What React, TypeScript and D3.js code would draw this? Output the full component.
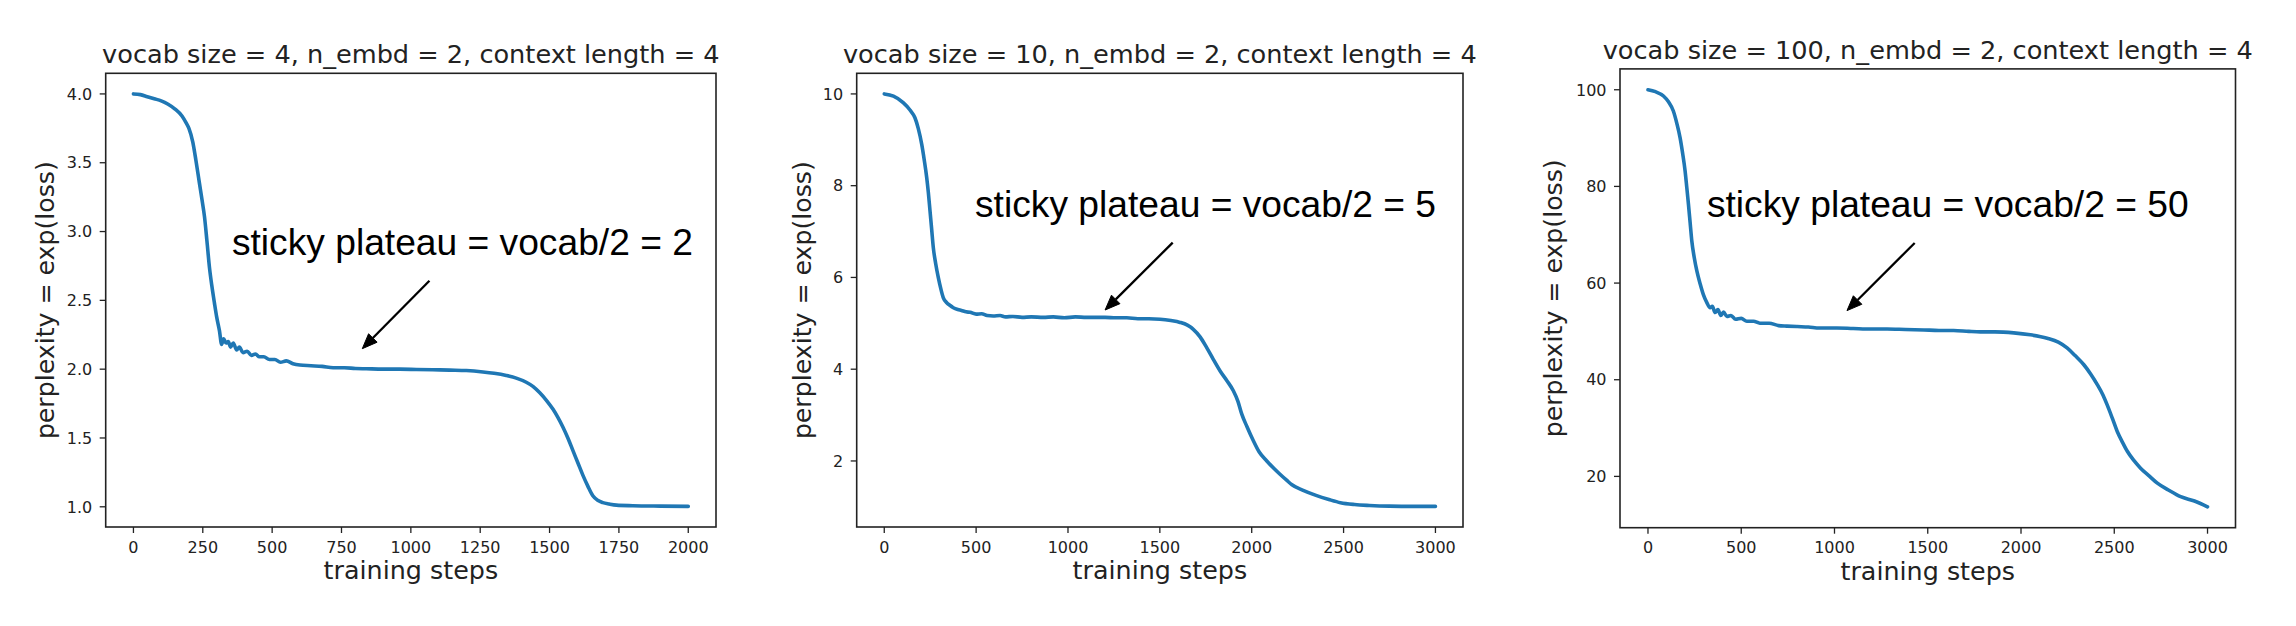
import React from 'react';
import * as d3 from 'd3';

// ---------- data ----------
const titles = [
  'vocab size = 4, n_embd = 2, context length = 4',
  'vocab size = 10, n_embd = 2, context length = 4',
  'vocab size = 100, n_embd = 2, context length = 4',
];
const annotationTexts = [
  'sticky plateau = vocab/2 = 2',
  'sticky plateau = vocab/2 = 5',
  'sticky plateau = vocab/2 = 50',
];
const xLabel = 'training steps';
const yLabel = 'perplexity = exp(loss)';

const stepsV4 = [0, 25, 50, 75, 100, 125, 150, 175, 190, 200, 214, 225, 238, 248, 256, 265, 274, 283, 292, 300, 310, 318, 325, 334, 342, 350, 360, 372, 382, 395, 410, 425, 440, 454, 470, 490, 510, 530, 551, 575, 600, 640, 680, 720, 760, 800, 839, 900, 960, 1020, 1079, 1140, 1200, 1260, 1300, 1344, 1380, 1416, 1440, 1464, 1490, 1512, 1530, 1548, 1566, 1584, 1602, 1620, 1638, 1656, 1675, 1692, 1715, 1741, 1800, 1900, 2000];
const perpV4 = [4.0, 3.995, 3.98, 3.965, 3.95, 3.925, 3.89, 3.84, 3.79, 3.75, 3.65, 3.52, 3.35, 3.22, 3.11, 2.93, 2.74, 2.6, 2.48, 2.38, 2.28, 2.18, 2.22, 2.19, 2.2, 2.16, 2.19, 2.14, 2.16, 2.12, 2.13, 2.1, 2.11, 2.09, 2.09, 2.07, 2.07, 2.05, 2.06, 2.04, 2.03, 2.025, 2.02, 2.01, 2.01, 2.005, 2.003, 2.0, 2.0, 1.998, 1.996, 1.993, 1.99, 1.98, 1.97, 1.954, 1.935, 1.905, 1.875, 1.83, 1.77, 1.71, 1.65, 1.58, 1.5, 1.41, 1.32, 1.23, 1.15, 1.08, 1.045, 1.03, 1.02, 1.012, 1.008, 1.005, 1.003];

const stepsV10 = [0, 50, 103, 140, 167, 185, 204, 218, 231, 240, 249, 258, 267, 280, 294, 308, 321, 340, 355, 376, 400, 420, 445, 467, 500, 530, 560, 593, 630, 660, 700, 750, 800, 866, 920, 980, 1040, 1100, 1150, 1202, 1260, 1320, 1380, 1440, 1501, 1560, 1610, 1650, 1682, 1720, 1755, 1790, 1828, 1865, 1900, 1925, 1946, 1975, 2009, 2040, 2082, 2120, 2154, 2190, 2219, 2280, 2350, 2420, 2483, 2560, 2641, 2750, 2880, 3000];
const perpV10 = [10.0, 9.95, 9.81, 9.65, 9.48, 9.25, 8.9, 8.55, 8.18, 7.85, 7.45, 7.05, 6.65, 6.3, 6.0, 5.75, 5.56, 5.45, 5.4, 5.34, 5.3, 5.28, 5.25, 5.24, 5.2, 5.21, 5.17, 5.16, 5.17, 5.14, 5.15, 5.13, 5.14, 5.13, 5.14, 5.12, 5.14, 5.13, 5.13, 5.13, 5.12, 5.12, 5.1, 5.1, 5.09, 5.06, 5.02, 4.96, 4.87, 4.7, 4.47, 4.22, 3.96, 3.75, 3.53, 3.3, 3.02, 2.74, 2.44, 2.2, 2.0, 1.84, 1.71, 1.58, 1.48, 1.36, 1.25, 1.16, 1.09, 1.05, 1.03, 1.015, 1.01, 1.01];

const stepsV100 = [0, 40, 83, 110, 136, 155, 172, 186, 199, 208, 217, 226, 235, 248, 262, 280, 297, 315, 333, 345, 360, 375, 390, 405, 423, 445, 470, 500, 530, 566, 600, 650, 700, 745, 800, 860, 920, 1013, 1100, 1200, 1282, 1380, 1480, 1560, 1639, 1720, 1782, 1860, 1961, 2050, 2140, 2200, 2247, 2290, 2337, 2375, 2409, 2440, 2462, 2490, 2516, 2545, 2570, 2605, 2641, 2690, 2731, 2790, 2856, 2930, 3000];
const perpV100 = [100, 99.6, 98.7, 97.5, 95.6, 93.0, 90.1, 86.8, 83.2, 79.8, 76.3, 72.5, 68.7, 65.3, 62.5, 59.8, 57.6, 56.0, 54.9, 55.2, 53.9, 54.5, 53.3, 54.0, 53.1, 53.3, 52.5, 52.7, 52.1, 52.1, 51.7, 51.7, 51.2, 51.1, 51.0, 50.9, 50.7, 50.7, 50.6, 50.5, 50.5, 50.4, 50.3, 50.2, 50.2, 50.0, 49.9, 49.9, 49.7, 49.3, 48.6, 47.8, 46.6, 45.0, 43.1, 41.1, 39.0, 36.8, 34.8, 32.0, 29.3, 27.0, 25.2, 23.3, 21.7, 20.0, 18.6, 17.2, 15.8, 14.9, 13.7];

const xTicksV4 = [0, 250, 500, 750, 1000, 1250, 1500, 1750, 2000];
const xTicksV10 = [0, 500, 1000, 1500, 2000, 2500, 3000];
const xTicksV100 = [0, 500, 1000, 1500, 2000, 2500, 3000];
const yTicksV4 = [1.0, 1.5, 2.0, 2.5, 3.0, 3.5, 4.0];
const yTicksV10 = [2, 4, 6, 8, 10];
const yTicksV100 = [20, 40, 60, 80, 100];
const yTickFormats = ['.1f', 'd', 'd'];

// annotation anchors in data coordinates: [text x, text y], [tail x, tail y], [tip x, tip y]
const annotationTextAt = [[355, 2.83], [494, 7.31], [316, 73.6]];
const arrowTail = [[1067, 2.642], [1570, 6.76], [1430, 68.3]];
const arrowTip = [[825, 2.149], [1202, 5.29], [1067, 54.3]];

// ---------- layout ----------
const W = 2296;
const H = 626;
const frames = [
  { l: 105.7, t: 73.3, r: 716, b: 527, titleY: 62.7, ylabX: 54, xlabY: 578.7 },
  { l: 856.7, t: 73.3, r: 1463, b: 527, titleY: 62.7, ylabX: 810.5, xlabY: 578.7 },
  { l: 1620, t: 68.9, r: 2235.5, b: 527.7, titleY: 58.8, ylabX: 1562, xlabY: 580 },
];

const MPL_FONT = "'DejaVu Sans', sans-serif";
const ANN_FONT = "'Liberation Sans', Arial, Helvetica, sans-serif";
const BLUE = '#1f77b4';
const INK = '#222222';

type PanelProps = {
  i: number;
  steps: number[];
  values: number[];
  xTicks: number[];
  yTicks: number[];
};

function Panel({ i, steps, values, xTicks, yTicks }: PanelProps) {
  const f = frames[i];
  const xMin = d3.min(steps)!;
  const xMax = d3.max(steps)!;
  const yMin = d3.min(values)!;
  const yMax = d3.max(values)!;
  const xPad = (xMax - xMin) * 0.05;
  const yPad = (yMax - yMin) * 0.05;
  const x = d3.scaleLinear().domain([xMin - xPad, xMax + xPad]).range([f.l, f.r]);
  const y = d3.scaleLinear().domain([yMin - yPad, yMax + yPad]).range([f.b, f.t]);
  const pts: [number, number][] = steps.map((s, k) => [s, values[k]]);
  const line = d3.line<[number, number]>().x(d => x(d[0])).y(d => y(d[1])).curve(d3.curveMonotoneX);
  const fmt = d3.format(yTickFormats[i]);

  const [tx, ty] = annotationTextAt[i];
  const [ax0, ay0] = arrowTail[i];
  const [ax1, ay1] = arrowTip[i];
  const p0 = [x(ax0), y(ay0)];
  const p1 = [x(ax1), y(ay1)];
  const ang = Math.atan2(p1[1] - p0[1], p1[0] - p0[0]);
  const headLen = 15;
  const headW = 6;
  const bx = p1[0] - headLen * Math.cos(ang);
  const by = p1[1] - headLen * Math.sin(ang);
  const nx = -Math.sin(ang);
  const ny = Math.cos(ang);
  const head = `M${p1[0]},${p1[1]} L${bx + nx * headW},${by + ny * headW} L${bx - nx * headW},${by - ny * headW} Z`;

  const cx = (f.l + f.r) / 2;
  const cy = (f.t + f.b) / 2;

  return (
    <g>
      <text x={cx} y={f.titleY} textAnchor="middle" fontFamily={MPL_FONT} fontSize={25.6} fill={INK}>
        {titles[i]}
      </text>
      <clipPath id={`clip${i}`}>
        <rect x={f.l} y={f.t} width={f.r - f.l} height={f.b - f.t} />
      </clipPath>
      <path d={line(pts) || ''} fill="none" stroke={BLUE} strokeWidth={3.6} strokeLinejoin="round" strokeLinecap="round" clipPath={`url(#clip${i})`} />
      <rect x={f.l} y={f.t} width={f.r - f.l} height={f.b - f.t} fill="none" stroke={INK} strokeWidth={1.6} />
      {xTicks.map(t => (
        <g key={`x${t}`}>
          <line x1={x(t)} x2={x(t)} y1={f.b} y2={f.b + 6} stroke={INK} strokeWidth={1.3} />
          <text x={x(t)} y={f.b + 25.7} textAnchor="middle" fontFamily={MPL_FONT} fontSize={16} fill={INK}>
            {String(t)}
          </text>
        </g>
      ))}
      {yTicks.map(t => (
        <g key={`y${t}`}>
          <line x1={f.l - 6} x2={f.l} y1={y(t)} y2={y(t)} stroke={INK} strokeWidth={1.3} />
          <text x={f.l - 13.5} y={y(t)} dy="0.36em" textAnchor="end" fontFamily={MPL_FONT} fontSize={16} fill={INK}>
            {fmt(t)}
          </text>
        </g>
      ))}
      <text x={cx} y={f.xlabY} textAnchor="middle" fontFamily={MPL_FONT} fontSize={25.4} fill={INK}>
        {xLabel}
      </text>
      <text transform={`translate(${f.ylabX},${cy}) rotate(-90)`} textAnchor="middle" fontFamily={MPL_FONT} fontSize={25.2} fill={INK}>
        {yLabel}
      </text>
      <text x={x(tx)} y={y(ty)} fontFamily={ANN_FONT} fontSize={37.2} fill="#000">
        {annotationTexts[i]}
      </text>
      <line x1={p0[0]} y1={p0[1]} x2={bx} y2={by} stroke="#000" strokeWidth={2.3} />
      <path d={head} fill="#000" stroke="#000" strokeWidth={1} strokeLinejoin="miter" />
    </g>
  );
}

export default function App() {
  return (
    <svg
      width={W}
      height={H}
      viewBox={`0 0 ${W} ${H}`}
      style={{ position: 'absolute', left: 0, top: 0, background: '#fff' }}
    >
      <rect x={0} y={0} width={W} height={H} fill="#fff" />
      <Panel i={0} steps={stepsV4} values={perpV4} xTicks={xTicksV4} yTicks={yTicksV4} />
      <Panel i={1} steps={stepsV10} values={perpV10} xTicks={xTicksV10} yTicks={yTicksV10} />
      <Panel i={2} steps={stepsV100} values={perpV100} xTicks={xTicksV100} yTicks={yTicksV100} />
    </svg>
  );
}
